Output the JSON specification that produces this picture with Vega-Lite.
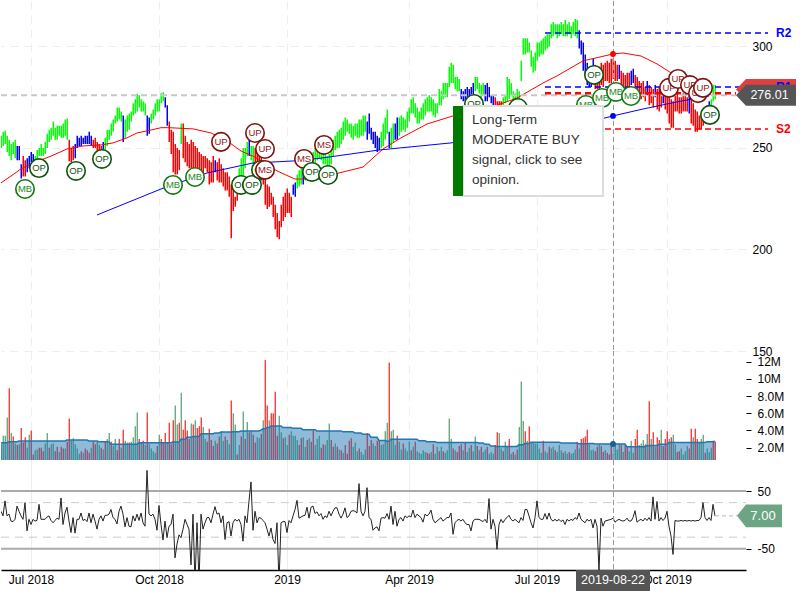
{"$schema":"https://vega.github.io/schema/vega-lite/v6.json","padding":0,"background":"white","bounds":"flush","spacing":0,"config":{"view":{"stroke":null},"font":"Liberation Sans","axis":{"labelFont":"Liberation Sans","labelFontSize":12,"labelColor":"#000","title":null,"labelOverlap":false,"labelBound":false,"labelFlush":false,"gridColor":"#eeeeee","gridDash":[8,6],"gridWidth":1}},"resolve":{"scale":{"color":"independent"}},"datasets":{"bars":[
{"day":0,"low":250,"high":256,"trend":"u","vol":2.4,"dir":"u","avg":2.58,"osc":15},
{"day":1,"low":251,"high":258,"trend":"u","vol":3.4,"dir":"u","avg":2.58,"osc":7},
{"day":2,"low":252,"high":258.5,"trend":"u","vol":3.4,"dir":"u","avg":2.58,"osc":33},
{"day":3,"low":248,"high":256,"trend":"u","vol":5.5,"dir":"u","avg":2.58,"osc":7},
{"day":4,"low":246,"high":254,"trend":"u","vol":8.9,"dir":"d","avg":2.7,"osc":10},
{"day":5,"low":244,"high":252,"trend":"u","vol":3.7,"dir":"u","avg":2.7,"osc":-2},
{"day":6,"low":247,"high":253,"trend":"u","vol":3.3,"dir":"d","avg":2.7,"osc":-3},
{"day":7,"low":245,"high":254,"trend":"u","vol":2.5,"dir":"u","avg":2.7,"osc":1},
{"day":8,"low":244,"high":251,"trend":"n","vol":2.3,"dir":"d","avg":2.7,"osc":24},
{"day":9,"low":244,"high":251,"trend":"n","vol":2.4,"dir":"u","avg":2.78,"osc":15},
{"day":10,"low":235,"high":242,"trend":"n","vol":4.3,"dir":"d","avg":2.78,"osc":7},
{"day":11,"low":236,"high":246,"trend":"d","vol":2.6,"dir":"d","avg":2.78,"osc":1},
{"day":12,"low":236,"high":244,"trend":"d","vol":3.2,"dir":"d","avg":2.78,"osc":30},
{"day":13,"low":238,"high":245,"trend":"n","vol":2,"dir":"u","avg":2.78,"osc":-19},
{"day":14,"low":240,"high":246,"trend":"n","vol":3.5,"dir":"u","avg":2.78,"osc":1},
{"day":15,"low":243,"high":248,"trend":"n","vol":4,"dir":"d","avg":2.78,"osc":-8},
{"day":16,"low":241,"high":247,"trend":"n","vol":1.2,"dir":"d","avg":2.78,"osc":1},
{"day":17,"low":240,"high":246,"trend":"u","vol":1.7,"dir":"u","avg":2.78,"osc":-2},
{"day":18,"low":243,"high":249,"trend":"u","vol":1.8,"dir":"u","avg":2.78,"osc":-1},
{"day":19,"low":246,"high":250,"trend":"u","vol":2,"dir":"d","avg":2.78,"osc":27},
{"day":20,"low":246,"high":252,"trend":"u","vol":2,"dir":"d","avg":2.78,"osc":1},
{"day":21,"low":246,"high":250,"trend":"u","vol":1.6,"dir":"d","avg":2.78,"osc":1},
{"day":22,"low":247,"high":253,"trend":"u","vol":2.5,"dir":"u","avg":2.78,"osc":1},
{"day":23,"low":250,"high":257,"trend":"u","vol":3.7,"dir":"u","avg":2.78,"osc":5},
{"day":24,"low":253,"high":259,"trend":"u","vol":2,"dir":"d","avg":2.78,"osc":7},
{"day":25,"low":254,"high":260,"trend":"u","vol":2.4,"dir":"u","avg":2.78,"osc":-1},
{"day":26,"low":256,"high":263,"trend":"u","vol":2.5,"dir":"u","avg":2.78,"osc":-5},
{"day":27,"low":254,"high":260,"trend":"u","vol":1.6,"dir":"d","avg":2.78,"osc":-1},
{"day":28,"low":254,"high":261,"trend":"u","vol":2.1,"dir":"d","avg":2.78,"osc":3},
{"day":29,"low":256,"high":261,"trend":"u","vol":1.5,"dir":"u","avg":2.78,"osc":1},
{"day":30,"low":255,"high":261,"trend":"u","vol":2.1,"dir":"d","avg":2.78,"osc":38},
{"day":31,"low":255,"high":262,"trend":"u","vol":1.9,"dir":"d","avg":2.78,"osc":-8},
{"day":32,"low":256,"high":264,"trend":"u","vol":1.9,"dir":"u","avg":2.78,"osc":12},
{"day":33,"low":254,"high":264.5,"trend":"u","vol":2.7,"dir":"d","avg":2.89,"osc":22},
{"day":34,"low":243.5,"high":254,"trend":"d","vol":5.4,"dir":"d","avg":2.89,"osc":-2},
{"day":35,"low":243,"high":250,"trend":"d","vol":2.8,"dir":"u","avg":2.89,"osc":-22},
{"day":36,"low":244,"high":251,"trend":"d","vol":3.1,"dir":"u","avg":2.89,"osc":4},
{"day":37,"low":245,"high":252,"trend":"n","vol":2.4,"dir":"u","avg":2.89,"osc":-23},
{"day":38,"low":250,"high":256,"trend":"n","vol":1.9,"dir":"u","avg":2.89,"osc":1},
{"day":39,"low":251,"high":255,"trend":"n","vol":1.3,"dir":"u","avg":2.89,"osc":1},
{"day":40,"low":251,"high":256,"trend":"n","vol":1.6,"dir":"d","avg":2.89,"osc":12},
{"day":41,"low":252,"high":255,"trend":"n","vol":1.4,"dir":"u","avg":2.89,"osc":-1},
{"day":42,"low":252,"high":256,"trend":"n","vol":1.9,"dir":"d","avg":2.89,"osc":1},
{"day":43,"low":252,"high":256,"trend":"n","vol":1.7,"dir":"d","avg":2.89,"osc":-3},
{"day":44,"low":252,"high":258,"trend":"n","vol":1.4,"dir":"d","avg":2.78,"osc":12},
{"day":45,"low":251,"high":256,"trend":"n","vol":2,"dir":"u","avg":2.78,"osc":-5},
{"day":46,"low":250,"high":254,"trend":"d","vol":2.7,"dir":"d","avg":2.78,"osc":10},
{"day":47,"low":250,"high":255,"trend":"d","vol":2.4,"dir":"d","avg":2.78,"osc":-2},
{"day":48,"low":248,"high":253,"trend":"d","vol":2.7,"dir":"u","avg":2.78,"osc":-16},
{"day":49,"low":248,"high":252,"trend":"d","vol":2.3,"dir":"u","avg":2.7,"osc":1},
{"day":50,"low":246,"high":251,"trend":"d","vol":2,"dir":"d","avg":2.7,"osc":7},
{"day":51,"low":249,"high":253,"trend":"n","vol":1.8,"dir":"u","avg":2.7,"osc":-2},
{"day":52,"low":249,"high":255,"trend":"u","vol":2.7,"dir":"d","avg":2.7,"osc":8},
{"day":53,"low":251,"high":259,"trend":"u","vol":3,"dir":"u","avg":2.7,"osc":8},
{"day":54,"low":254,"high":259,"trend":"u","vol":3.7,"dir":"u","avg":2.7,"osc":10},
{"day":55,"low":256,"high":262,"trend":"u","vol":2.7,"dir":"d","avg":2.39,"osc":18},
{"day":56,"low":258,"high":264,"trend":"u","vol":2.2,"dir":"u","avg":2.39,"osc":4},
{"day":57,"low":262,"high":266,"trend":"u","vol":3,"dir":"u","avg":2.39,"osc":1},
{"day":58,"low":263,"high":270,"trend":"u","vol":1.7,"dir":"d","avg":2.39,"osc":-7},
{"day":59,"low":264,"high":270,"trend":"u","vol":3,"dir":"d","avg":2.39,"osc":15},
{"day":60,"low":263,"high":268,"trend":"u","vol":2,"dir":"u","avg":2.39,"osc":24},
{"day":61,"low":253,"high":266,"trend":"n","vol":4.1,"dir":"d","avg":2.39,"osc":10},
{"day":62,"low":255,"high":264,"trend":"u","vol":2.8,"dir":"u","avg":2.39,"osc":-12},
{"day":63,"low":258,"high":266,"trend":"u","vol":2.6,"dir":"u","avg":2.39,"osc":4},
{"day":64,"low":259,"high":267,"trend":"u","vol":2.6,"dir":"d","avg":2.39,"osc":-11},
{"day":65,"low":263,"high":268,"trend":"u","vol":2.7,"dir":"u","avg":2.39,"osc":-12},
{"day":66,"low":266,"high":272,"trend":"u","vol":3.2,"dir":"u","avg":2.39,"osc":7},
{"day":67,"low":267,"high":274,"trend":"u","vol":4.5,"dir":"u","avg":2.39,"osc":-2},
{"day":68,"low":268,"high":276.7,"trend":"u","vol":6.1,"dir":"u","avg":2.39,"osc":10},
{"day":69,"low":270,"high":276,"trend":"u","vol":3,"dir":"d","avg":2.58,"osc":-1},
{"day":70,"low":268,"high":274,"trend":"u","vol":2.6,"dir":"u","avg":2.58,"osc":12},
{"day":71,"low":268,"high":273,"trend":"u","vol":2.8,"dir":"d","avg":2.58,"osc":-5},
{"day":72,"low":266,"high":272,"trend":"u","vol":2.3,"dir":"u","avg":2.58,"osc":-11},
{"day":73,"low":256,"high":266,"trend":"n","vol":6.1,"dir":"d","avg":2.58,"osc":86},
{"day":74,"low":257,"high":265,"trend":"n","vol":2.4,"dir":"u","avg":2.58,"osc":10},
{"day":75,"low":262,"high":267,"trend":"u","vol":1.9,"dir":"u","avg":2.58,"osc":7},
{"day":76,"low":264,"high":269,"trend":"u","vol":1.6,"dir":"u","avg":2.58,"osc":10},
{"day":77,"low":266,"high":272,"trend":"u","vol":1.4,"dir":"u","avg":2.58,"osc":1},
{"day":78,"low":268,"high":274,"trend":"u","vol":2.2,"dir":"d","avg":2.58,"osc":-18},
{"day":79,"low":268,"high":274,"trend":"u","vol":3.5,"dir":"u","avg":2.58,"osc":25},
{"day":80,"low":272,"high":277,"trend":"u","vol":3,"dir":"d","avg":2.58,"osc":-8},
{"day":81,"low":273,"high":277.5,"trend":"u","vol":2.6,"dir":"d","avg":2.58,"osc":-35},
{"day":82,"low":270,"high":275,"trend":"n","vol":3.7,"dir":"d","avg":2.58,"osc":-2},
{"day":83,"low":261,"high":271,"trend":"n","vol":2.6,"dir":"u","avg":2.58,"osc":-31},
{"day":84,"low":253,"high":263,"trend":"d","vol":4.9,"dir":"d","avg":2.58,"osc":-11},
{"day":85,"low":247,"high":259,"trend":"d","vol":2.4,"dir":"d","avg":2.58,"osc":-8},
{"day":86,"low":238,"high":258,"trend":"d","vol":5.2,"dir":"d","avg":2.65,"osc":10},
{"day":87,"low":237,"high":252,"trend":"d","vol":6.9,"dir":"u","avg":2.65,"osc":-66},
{"day":88,"low":237,"high":250,"trend":"d","vol":4.7,"dir":"u","avg":2.65,"osc":-42},
{"day":89,"low":239,"high":249,"trend":"d","vol":4.9,"dir":"d","avg":2.65,"osc":-26},
{"day":90,"low":252,"high":262,"trend":"u","vol":8.4,"dir":"u","avg":2.97,"osc":-31},
{"day":91,"low":245,"high":262,"trend":"d","vol":4.1,"dir":"d","avg":2.97,"osc":-16},
{"day":92,"low":243,"high":256,"trend":"d","vol":5.2,"dir":"d","avg":2.97,"osc":1},
{"day":93,"low":241,"high":253,"trend":"d","vol":4,"dir":"d","avg":3.2,"osc":-8},
{"day":94,"low":240,"high":252,"trend":"d","vol":3,"dir":"d","avg":3.2,"osc":-16},
{"day":95,"low":240,"high":254,"trend":"d","vol":4.8,"dir":"u","avg":3.2,"osc":-78},
{"day":96,"low":238,"high":253,"trend":"d","vol":4.7,"dir":"d","avg":3.3,"osc":10},
{"day":97,"low":238,"high":251,"trend":"d","vol":5.2,"dir":"u","avg":3.3,"osc":-110},
{"day":98,"low":236,"high":250,"trend":"d","vol":4.3,"dir":"d","avg":3.3,"osc":-5},
{"day":99,"low":237,"high":248,"trend":"d","vol":4.5,"dir":"d","avg":3.3,"osc":-110},
{"day":100,"low":236,"high":247,"trend":"d","vol":5.5,"dir":"d","avg":3.63,"osc":10},
{"day":101,"low":236,"high":246,"trend":"d","vol":4.4,"dir":"u","avg":3.63,"osc":-16},
{"day":102,"low":240,"high":246,"trend":"d","vol":3,"dir":"u","avg":3.63,"osc":-5},
{"day":103,"low":238,"high":245,"trend":"d","vol":2.7,"dir":"d","avg":3.63,"osc":4},
{"day":104,"low":232,"high":244,"trend":"d","vol":4.2,"dir":"d","avg":3.63,"osc":4},
{"day":105,"low":233,"high":243,"trend":"d","vol":2.9,"dir":"d","avg":3.63,"osc":-5},
{"day":106,"low":233,"high":246,"trend":"d","vol":2.2,"dir":"d","avg":3.63,"osc":10},
{"day":107,"low":238,"high":244,"trend":"n","vol":2.8,"dir":"u","avg":3.7,"osc":23},
{"day":108,"low":234,"high":243,"trend":"d","vol":2.5,"dir":"d","avg":3.7,"osc":10},
{"day":109,"low":233,"high":245,"trend":"d","vol":3.3,"dir":"d","avg":3.7,"osc":12},
{"day":110,"low":233,"high":242,"trend":"d","vol":3.9,"dir":"u","avg":3.82,"osc":-5},
{"day":111,"low":231,"high":240,"trend":"d","vol":2.8,"dir":"u","avg":3.82,"osc":7},
{"day":112,"low":229,"high":238,"trend":"d","vol":3.3,"dir":"d","avg":3.82,"osc":-34},
{"day":113,"low":229,"high":238,"trend":"d","vol":2.9,"dir":"u","avg":3.82,"osc":-5},
{"day":114,"low":226,"high":236,"trend":"d","vol":2.4,"dir":"u","avg":3.82,"osc":-3},
{"day":115,"low":205.5,"high":232,"trend":"d","vol":7.5,"dir":"d","avg":3.82,"osc":-28},
{"day":116,"low":219,"high":230,"trend":"d","vol":6,"dir":"u","avg":3.85,"osc":-5},
{"day":117,"low":221,"high":226,"trend":"d","vol":4.7,"dir":"u","avg":3.85,"osc":1},
{"day":118,"low":224,"high":230,"trend":"d","vol":1.2,"dir":"d","avg":3.85,"osc":-2},
{"day":119,"low":228,"high":240,"trend":"u","vol":2.3,"dir":"u","avg":3.85,"osc":1},
{"day":120,"low":236,"high":245,"trend":"u","vol":3.3,"dir":"d","avg":3.94,"osc":-8},
{"day":121,"low":236,"high":250,"trend":"u","vol":6.2,"dir":"u","avg":3.94,"osc":-37},
{"day":122,"low":240,"high":250,"trend":"u","vol":3,"dir":"d","avg":3.94,"osc":7},
{"day":123,"low":246,"high":253,"trend":"u","vol":5,"dir":"u","avg":3.94,"osc":-5},
{"day":124,"low":246,"high":254,"trend":"n","vol":3.8,"dir":"d","avg":3.94,"osc":33},
{"day":125,"low":244,"high":251,"trend":"u","vol":4,"dir":"u","avg":3.94,"osc":66},
{"day":126,"low":242,"high":251,"trend":"u","vol":3.5,"dir":"d","avg":3.94,"osc":-18},
{"day":127,"low":240,"high":250,"trend":"d","vol":2.6,"dir":"d","avg":3.94,"osc":15},
{"day":128,"low":238,"high":249,"trend":"d","vol":3.2,"dir":"u","avg":3.94,"osc":-5},
{"day":129,"low":236,"high":247,"trend":"d","vol":3.1,"dir":"u","avg":3.94,"osc":4},
{"day":130,"low":234,"high":246,"trend":"d","vol":3.6,"dir":"d","avg":4.05,"osc":3},
{"day":131,"low":232,"high":244,"trend":"d","vol":5.2,"dir":"u","avg":4.2,"osc":-1},
{"day":132,"low":222,"high":236,"trend":"d","vol":12.2,"dir":"d","avg":4.2,"osc":-5},
{"day":133,"low":220,"high":232,"trend":"d","vol":6.9,"dir":"d","avg":4.35,"osc":-16},
{"day":134,"low":221,"high":231,"trend":"d","vol":5.2,"dir":"u","avg":4.35,"osc":-28},
{"day":135,"low":222,"high":228,"trend":"d","vol":6,"dir":"d","avg":4.52,"osc":-14},
{"day":136,"low":216,"high":226,"trend":"d","vol":6,"dir":"d","avg":4.52,"osc":-34},
{"day":137,"low":210,"high":222,"trend":"d","vol":8.5,"dir":"d","avg":4.52,"osc":-41},
{"day":138,"low":206,"high":218,"trend":"d","vol":3.4,"dir":"d","avg":4.52,"osc":-5},
{"day":139,"low":205,"high":214,"trend":"d","vol":5.7,"dir":"u","avg":4.52,"osc":-110},
{"day":140,"low":211,"high":222,"trend":"d","vol":3.8,"dir":"u","avg":4.52,"osc":-5},
{"day":141,"low":214,"high":226,"trend":"d","vol":3.1,"dir":"d","avg":4.35,"osc":-3},
{"day":142,"low":216,"high":228,"trend":"d","vol":3.2,"dir":"u","avg":4.35,"osc":-3},
{"day":143,"low":218,"high":230,"trend":"d","vol":2.3,"dir":"u","avg":4.35,"osc":-22},
{"day":144,"low":218,"high":228,"trend":"d","vol":3.5,"dir":"d","avg":4.35,"osc":-1},
{"day":145,"low":216,"high":226,"trend":"d","vol":3.9,"dir":"u","avg":4.35,"osc":-5},
{"day":146,"low":227,"high":232,"trend":"n","vol":3.4,"dir":"u","avg":4.25,"osc":7},
{"day":147,"low":226,"high":233,"trend":"n","vol":3.4,"dir":"u","avg":4.25,"osc":18},
{"day":148,"low":230,"high":237,"trend":"u","vol":2.9,"dir":"u","avg":4.25,"osc":34},
{"day":149,"low":231,"high":239,"trend":"u","vol":2.3,"dir":"d","avg":4.25,"osc":3},
{"day":150,"low":232,"high":240,"trend":"u","vol":3.1,"dir":"d","avg":4.25,"osc":5},
{"day":151,"low":232,"high":240,"trend":"n","vol":3.2,"dir":"u","avg":4.1,"osc":7},
{"day":152,"low":234,"high":242,"trend":"u","vol":2.1,"dir":"u","avg":4.1,"osc":8},
{"day":153,"low":234,"high":243,"trend":"u","vol":2.9,"dir":"d","avg":4.1,"osc":22},
{"day":154,"low":236,"high":245,"trend":"u","vol":3.1,"dir":"u","avg":4.1,"osc":3},
{"day":155,"low":238,"high":247,"trend":"u","vol":2.7,"dir":"d","avg":4.1,"osc":22},
{"day":156,"low":240,"high":248,"trend":"u","vol":4,"dir":"d","avg":4.1,"osc":24},
{"day":157,"low":242,"high":250,"trend":"u","vol":2.3,"dir":"u","avg":4.1,"osc":11},
{"day":158,"low":244,"high":252,"trend":"u","vol":3,"dir":"u","avg":3.95,"osc":14},
{"day":159,"low":245,"high":252,"trend":"u","vol":3.4,"dir":"u","avg":3.95,"osc":7},
{"day":160,"low":244,"high":250,"trend":"u","vol":2,"dir":"d","avg":3.95,"osc":11},
{"day":161,"low":242,"high":248,"trend":"u","vol":2.4,"dir":"d","avg":3.95,"osc":1},
{"day":162,"low":242,"high":248,"trend":"u","vol":2.3,"dir":"u","avg":3.95,"osc":7},
{"day":163,"low":238,"high":246,"trend":"u","vol":2.9,"dir":"u","avg":3.95,"osc":4},
{"day":164,"low":240,"high":247,"trend":"u","vol":4.8,"dir":"u","avg":3.95,"osc":15},
{"day":165,"low":242,"high":250,"trend":"u","vol":2.9,"dir":"d","avg":3.95,"osc":7},
{"day":166,"low":246,"high":254,"trend":"u","vol":2.1,"dir":"d","avg":3.95,"osc":15},
{"day":167,"low":249,"high":256,"trend":"u","vol":2.5,"dir":"u","avg":3.95,"osc":21},
{"day":168,"low":250,"high":258,"trend":"u","vol":2.1,"dir":"d","avg":3.95,"osc":21},
{"day":169,"low":250,"high":259,"trend":"u","vol":1.8,"dir":"u","avg":3.95,"osc":10},
{"day":170,"low":252,"high":260,"trend":"u","vol":1.7,"dir":"d","avg":3.95,"osc":3},
{"day":171,"low":254,"high":263,"trend":"u","vol":1.4,"dir":"u","avg":3.85,"osc":10},
{"day":172,"low":256,"high":265,"trend":"u","vol":2.3,"dir":"d","avg":3.85,"osc":21},
{"day":173,"low":258,"high":264,"trend":"u","vol":1.3,"dir":"d","avg":3.85,"osc":4},
{"day":174,"low":257,"high":262,"trend":"u","vol":2.8,"dir":"d","avg":3.85,"osc":7},
{"day":175,"low":255,"high":262,"trend":"u","vol":3.1,"dir":"d","avg":3.85,"osc":15},
{"day":176,"low":254,"high":261,"trend":"u","vol":2.1,"dir":"u","avg":3.85,"osc":16},
{"day":177,"low":256,"high":262,"trend":"u","vol":2.6,"dir":"u","avg":3.7,"osc":15},
{"day":178,"low":255,"high":262,"trend":"u","vol":1.6,"dir":"u","avg":3.7,"osc":12},
{"day":179,"low":255,"high":264,"trend":"u","vol":1.9,"dir":"d","avg":3.7,"osc":63},
{"day":180,"low":256,"high":264,"trend":"u","vol":1.5,"dir":"u","avg":3.7,"osc":15},
{"day":181,"low":256,"high":266,"trend":"u","vol":1.2,"dir":"u","avg":3.55,"osc":7},
{"day":182,"low":258,"high":266,"trend":"u","vol":1.8,"dir":"u","avg":3.55,"osc":15},
{"day":183,"low":254,"high":263,"trend":"n","vol":3.7,"dir":"d","avg":3.55,"osc":56},
{"day":184,"low":257,"high":267,"trend":"n","vol":2.2,"dir":"d","avg":3.55,"osc":4},
{"day":185,"low":254,"high":260,"trend":"n","vol":2.9,"dir":"d","avg":3.2,"osc":1},
{"day":186,"low":252,"high":258,"trend":"n","vol":2.5,"dir":"u","avg":3.2,"osc":-18},
{"day":187,"low":250,"high":258,"trend":"n","vol":2.2,"dir":"u","avg":3.2,"osc":-14},
{"day":188,"low":248,"high":256,"trend":"n","vol":2.8,"dir":"d","avg":3.2,"osc":-12},
{"day":189,"low":249,"high":255,"trend":"n","vol":2.9,"dir":"d","avg":2.85,"osc":-19},
{"day":190,"low":250,"high":258,"trend":"u","vol":2.3,"dir":"u","avg":2.85,"osc":3},
{"day":191,"low":251,"high":262,"trend":"u","vol":2.4,"dir":"u","avg":2.85,"osc":4},
{"day":192,"low":254,"high":265,"trend":"u","vol":3.9,"dir":"u","avg":2.85,"osc":3},
{"day":193,"low":257,"high":269,"trend":"u","vol":4.9,"dir":"u","avg":2.75,"osc":11},
{"day":194,"low":250,"high":258,"trend":"n","vol":11.9,"dir":"d","avg":2.75,"osc":1},
{"day":195,"low":250,"high":260,"trend":"u","vol":3.9,"dir":"u","avg":2.97,"osc":24},
{"day":196,"low":253,"high":262,"trend":"u","vol":4.1,"dir":"u","avg":2.97,"osc":-8},
{"day":197,"low":254,"high":262,"trend":"n","vol":2.3,"dir":"u","avg":2.97,"osc":15},
{"day":198,"low":254,"high":265,"trend":"n","vol":3.4,"dir":"d","avg":2.97,"osc":-11},
{"day":199,"low":256,"high":265,"trend":"u","vol":2.7,"dir":"u","avg":2.97,"osc":1},
{"day":200,"low":258,"high":266,"trend":"u","vol":1.8,"dir":"u","avg":2.97,"osc":4},
{"day":201,"low":259,"high":265,"trend":"u","vol":2.5,"dir":"d","avg":2.97,"osc":-2},
{"day":202,"low":258,"high":264,"trend":"u","vol":1.9,"dir":"u","avg":2.97,"osc":7},
{"day":203,"low":260,"high":268,"trend":"u","vol":1.6,"dir":"u","avg":2.97,"osc":4},
{"day":204,"low":263,"high":270,"trend":"u","vol":2.7,"dir":"u","avg":2.97,"osc":7},
{"day":205,"low":267,"high":274,"trend":"u","vol":1.7,"dir":"d","avg":2.97,"osc":5},
{"day":206,"low":267,"high":275,"trend":"u","vol":2.1,"dir":"u","avg":2.97,"osc":17},
{"day":207,"low":265,"high":272,"trend":"u","vol":2.7,"dir":"d","avg":2.97,"osc":4},
{"day":208,"low":262,"high":270,"trend":"u","vol":1.6,"dir":"u","avg":2.97,"osc":10},
{"day":209,"low":262,"high":268,"trend":"u","vol":1.4,"dir":"u","avg":2.8,"osc":7},
{"day":210,"low":264,"high":270,"trend":"u","vol":1.3,"dir":"u","avg":2.8,"osc":4},
{"day":211,"low":264,"high":272,"trend":"u","vol":1.7,"dir":"u","avg":2.8,"osc":-4},
{"day":212,"low":266,"high":274,"trend":"u","vol":1.5,"dir":"u","avg":2.8,"osc":10},
{"day":213,"low":268,"high":275,"trend":"u","vol":1.4,"dir":"d","avg":2.7,"osc":7},
{"day":214,"low":268,"high":276,"trend":"u","vol":1.3,"dir":"d","avg":2.7,"osc":10},
{"day":215,"low":268,"high":275,"trend":"u","vol":1.5,"dir":"u","avg":2.7,"osc":17},
{"day":216,"low":266,"high":274,"trend":"u","vol":2.4,"dir":"d","avg":2.7,"osc":1},
{"day":217,"low":265,"high":272,"trend":"u","vol":1.3,"dir":"u","avg":2.7,"osc":-5},
{"day":218,"low":267,"high":272,"trend":"u","vol":2.1,"dir":"u","avg":2.6,"osc":-2},
{"day":219,"low":271,"high":279,"trend":"u","vol":1.6,"dir":"d","avg":2.6,"osc":1},
{"day":220,"low":271,"high":278,"trend":"u","vol":2.1,"dir":"u","avg":2.6,"osc":4},
{"day":221,"low":274,"high":282,"trend":"u","vol":1.6,"dir":"d","avg":2.6,"osc":-2},
{"day":222,"low":275,"high":282,"trend":"u","vol":1.4,"dir":"u","avg":2.6,"osc":1},
{"day":223,"low":275,"high":282,"trend":"u","vol":1.7,"dir":"u","avg":2.6,"osc":4},
{"day":224,"low":280,"high":290,"trend":"u","vol":5.4,"dir":"u","avg":2.6,"osc":4},
{"day":225,"low":282,"high":292,"trend":"u","vol":3,"dir":"u","avg":2.6,"osc":12},
{"day":226,"low":282,"high":291,"trend":"u","vol":1.9,"dir":"d","avg":2.6,"osc":-25},
{"day":227,"low":279,"high":285,"trend":"u","vol":1.7,"dir":"u","avg":2.6,"osc":-5},
{"day":228,"low":278,"high":285,"trend":"u","vol":1.5,"dir":"d","avg":2.6,"osc":-1},
{"day":229,"low":278,"high":284,"trend":"u","vol":2.2,"dir":"d","avg":2.6,"osc":1},
{"day":230,"low":274,"high":279,"trend":"n","vol":2.4,"dir":"d","avg":2.6,"osc":-2},
{"day":231,"low":273,"high":278,"trend":"n","vol":1.7,"dir":"u","avg":2.6,"osc":1},
{"day":232,"low":273,"high":279,"trend":"n","vol":2.6,"dir":"d","avg":2.6,"osc":-5},
{"day":233,"low":274,"high":280,"trend":"n","vol":1.5,"dir":"u","avg":2.6,"osc":-8},
{"day":234,"low":275,"high":279,"trend":"n","vol":2,"dir":"u","avg":2.6,"osc":-8},
{"day":235,"low":275,"high":280,"trend":"n","vol":2.3,"dir":"d","avg":2.6,"osc":-19},
{"day":236,"low":276,"high":282,"trend":"n","vol":1.6,"dir":"u","avg":2.6,"osc":-2},
{"day":237,"low":278,"high":285,"trend":"u","vol":3.3,"dir":"u","avg":2.6,"osc":1},
{"day":238,"low":279,"high":285,"trend":"u","vol":2.2,"dir":"d","avg":2.6,"osc":1},
{"day":239,"low":277,"high":282,"trend":"u","vol":1.7,"dir":"u","avg":2.55,"osc":1},
{"day":240,"low":275,"high":281,"trend":"u","vol":2.1,"dir":"d","avg":2.55,"osc":-1},
{"day":241,"low":276,"high":282,"trend":"u","vol":1.5,"dir":"u","avg":2.55,"osc":-3},
{"day":242,"low":273,"high":281,"trend":"n","vol":1.8,"dir":"u","avg":2.4,"osc":1},
{"day":243,"low":273,"high":282,"trend":"n","vol":2.1,"dir":"d","avg":2.4,"osc":-5},
{"day":244,"low":275,"high":280,"trend":"n","vol":1.3,"dir":"u","avg":2.4,"osc":37},
{"day":245,"low":272,"high":276,"trend":"n","vol":1.5,"dir":"u","avg":2.2,"osc":-16},
{"day":246,"low":271,"high":276,"trend":"n","vol":1.3,"dir":"u","avg":2.2,"osc":1},
{"day":247,"low":270,"high":275,"trend":"d","vol":2.3,"dir":"d","avg":2.2,"osc":-11},
{"day":248,"low":270,"high":273,"trend":"d","vol":3.8,"dir":"d","avg":2.15,"osc":-51},
{"day":249,"low":270,"high":273,"trend":"d","vol":3.7,"dir":"u","avg":2.15,"osc":-8},
{"day":250,"low":270,"high":273,"trend":"d","vol":1.9,"dir":"u","avg":2.15,"osc":1},
{"day":251,"low":270,"high":275,"trend":"u","vol":1.6,"dir":"d","avg":2.15,"osc":-5},
{"day":252,"low":272,"high":276,"trend":"u","vol":2.7,"dir":"u","avg":2.15,"osc":1},
{"day":253,"low":273,"high":285,"trend":"u","vol":2.2,"dir":"u","avg":2.15,"osc":4},
{"day":254,"low":274,"high":284,"trend":"u","vol":3,"dir":"d","avg":2.15,"osc":8},
{"day":255,"low":276,"high":282,"trend":"u","vol":1.3,"dir":"u","avg":2.15,"osc":1},
{"day":256,"low":273,"high":278,"trend":"u","vol":1.5,"dir":"d","avg":2.15,"osc":-2},
{"day":257,"low":272,"high":277,"trend":"u","vol":1.2,"dir":"u","avg":2.15,"osc":1},
{"day":258,"low":274,"high":279,"trend":"u","vol":1.8,"dir":"d","avg":2.15,"osc":-2},
{"day":259,"low":274,"high":278,"trend":"u","vol":4.4,"dir":"u","avg":2.35,"osc":-5},
{"day":260,"low":283,"high":293,"trend":"u","vol":9.7,"dir":"u","avg":2.35,"osc":4},
{"day":261,"low":296,"high":304,"trend":"u","vol":5.1,"dir":"u","avg":2.35,"osc":-1},
{"day":262,"low":296,"high":304,"trend":"u","vol":3.9,"dir":"d","avg":2.5,"osc":18},
{"day":263,"low":297,"high":304,"trend":"u","vol":2.8,"dir":"u","avg":2.5,"osc":18},
{"day":264,"low":297,"high":302,"trend":"u","vol":4.5,"dir":"d","avg":2.5,"osc":7},
{"day":265,"low":290,"high":298,"trend":"u","vol":2.6,"dir":"u","avg":2.62,"osc":-5},
{"day":266,"low":287,"high":295,"trend":"u","vol":2.6,"dir":"u","avg":2.62,"osc":-14},
{"day":267,"low":288,"high":297,"trend":"u","vol":2.5,"dir":"u","avg":2.62,"osc":4},
{"day":268,"low":293,"high":302,"trend":"u","vol":2.5,"dir":"u","avg":2.62,"osc":33},
{"day":269,"low":295,"high":302,"trend":"u","vol":1.9,"dir":"u","avg":2.62,"osc":4},
{"day":270,"low":296,"high":303,"trend":"u","vol":1.4,"dir":"u","avg":2.62,"osc":1},
{"day":271,"low":296,"high":304,"trend":"u","vol":2.8,"dir":"d","avg":2.62,"osc":1},
{"day":272,"low":298,"high":305,"trend":"u","vol":1.6,"dir":"u","avg":2.62,"osc":11},
{"day":273,"low":299,"high":306,"trend":"u","vol":1.4,"dir":"u","avg":2.62,"osc":1},
{"day":274,"low":300,"high":306,"trend":"u","vol":2.1,"dir":"d","avg":2.62,"osc":12},
{"day":275,"low":304,"high":311,"trend":"u","vol":1.9,"dir":"u","avg":2.62,"osc":1},
{"day":276,"low":305,"high":312,"trend":"u","vol":2.1,"dir":"u","avg":2.62,"osc":-2},
{"day":277,"low":306,"high":311,"trend":"u","vol":1.7,"dir":"d","avg":2.62,"osc":1},
{"day":278,"low":304,"high":311,"trend":"u","vol":1.5,"dir":"u","avg":2.62,"osc":-2},
{"day":279,"low":305,"high":311,"trend":"u","vol":2.3,"dir":"u","avg":2.62,"osc":1},
{"day":280,"low":306,"high":312,"trend":"u","vol":1.7,"dir":"u","avg":2.55,"osc":-3},
{"day":281,"low":305,"high":311,"trend":"u","vol":1.4,"dir":"d","avg":2.55,"osc":0},
{"day":282,"low":305,"high":313,"trend":"u","vol":1.6,"dir":"u","avg":2.55,"osc":-8},
{"day":283,"low":305,"high":311,"trend":"u","vol":1.3,"dir":"u","avg":2.55,"osc":1},
{"day":284,"low":306,"high":312,"trend":"u","vol":1.5,"dir":"d","avg":2.55,"osc":-2},
{"day":285,"low":304,"high":310,"trend":"u","vol":1.3,"dir":"u","avg":2.55,"osc":1},
{"day":286,"low":306,"high":312,"trend":"u","vol":1.4,"dir":"u","avg":2.55,"osc":-1},
{"day":287,"low":305,"high":313.5,"trend":"u","vol":1.8,"dir":"u","avg":2.55,"osc":4},
{"day":288,"low":304,"high":313,"trend":"u","vol":2.7,"dir":"d","avg":2.55,"osc":1},
{"day":289,"low":299,"high":308,"trend":"n","vol":1.9,"dir":"u","avg":2.45,"osc":12},
{"day":290,"low":296,"high":303,"trend":"n","vol":3,"dir":"d","avg":2.45,"osc":1},
{"day":291,"low":288,"high":302,"trend":"n","vol":3.1,"dir":"d","avg":2.45,"osc":-2},
{"day":292,"low":286,"high":296,"trend":"n","vol":3.3,"dir":"d","avg":2.45,"osc":-5},
{"day":293,"low":281,"high":292,"trend":"n","vol":4.1,"dir":"d","avg":2.45,"osc":1},
{"day":294,"low":280,"high":288,"trend":"n","vol":2.4,"dir":"u","avg":2.5,"osc":-2},
{"day":295,"low":280,"high":290,"trend":"n","vol":1.7,"dir":"u","avg":2.5,"osc":1},
{"day":296,"low":283,"high":294,"trend":"n","vol":1.8,"dir":"u","avg":2.5,"osc":-14},
{"day":297,"low":279,"high":291,"trend":"d","vol":1.6,"dir":"d","avg":2.42,"osc":1},
{"day":298,"low":279,"high":290,"trend":"d","vol":2.1,"dir":"d","avg":2.42,"osc":-11},
{"day":299,"low":277,"high":290,"trend":"d","vol":2.4,"dir":"u","avg":2.42,"osc":-88},
{"day":300,"low":281,"high":292,"trend":"d","vol":2.2,"dir":"d","avg":2.42,"osc":3},
{"day":301,"low":280,"high":291,"trend":"d","vol":1.5,"dir":"d","avg":2.42,"osc":-11},
{"day":302,"low":283,"high":292,"trend":"d","vol":1.7,"dir":"u","avg":2.42,"osc":-2},
{"day":303,"low":283,"high":293,"trend":"d","vol":1.4,"dir":"d","avg":2.42,"osc":-1},
{"day":304,"low":282,"high":292,"trend":"d","vol":1.2,"dir":"d","avg":2.42,"osc":0},
{"day":305,"low":282,"high":294,"trend":"d","vol":2.5,"dir":"d","avg":2.42,"osc":1},
{"day":306,"low":284,"high":294,"trend":"d","vol":1.3,"dir":"u","avg":2.42,"osc":3},
{"day":307,"low":283,"high":293,"trend":"d","vol":2.3,"dir":"u","avg":2.42,"osc":-4},
{"day":308,"low":283,"high":291,"trend":"d","vol":1.8,"dir":"u","avg":2.42,"osc":-1},
{"day":309,"low":284,"high":291,"trend":"n","vol":2.5,"dir":"u","avg":2.42,"osc":1},
{"day":310,"low":280,"high":288,"trend":"d","vol":2.3,"dir":"d","avg":2.42,"osc":-1},
{"day":311,"low":278,"high":287,"trend":"d","vol":1.5,"dir":"u","avg":2.42,"osc":-2},
{"day":312,"low":278,"high":286,"trend":"d","vol":2.4,"dir":"d","avg":2.42,"osc":-1},
{"day":313,"low":279,"high":287,"trend":"d","vol":2.1,"dir":"d","avg":2.1,"osc":3},
{"day":314,"low":277,"high":287,"trend":"d","vol":1.6,"dir":"u","avg":2.1,"osc":-2},
{"day":315,"low":281,"high":288,"trend":"n","vol":2.8,"dir":"u","avg":2.1,"osc":-2},
{"day":316,"low":282,"high":289,"trend":"n","vol":1.4,"dir":"u","avg":2.1,"osc":4},
{"day":317,"low":278,"high":286,"trend":"d","vol":3,"dir":"d","avg":2.1,"osc":16},
{"day":318,"low":272,"high":285,"trend":"d","vol":4.1,"dir":"d","avg":2.1,"osc":-4},
{"day":319,"low":274,"high":283,"trend":"d","vol":2.3,"dir":"u","avg":2.1,"osc":-1},
{"day":320,"low":274,"high":282,"trend":"d","vol":2.5,"dir":"u","avg":2.1,"osc":1},
{"day":321,"low":275,"high":283,"trend":"d","vol":2.9,"dir":"u","avg":2.1,"osc":-2},
{"day":322,"low":273,"high":280,"trend":"d","vol":2.4,"dir":"d","avg":2.1,"osc":3},
{"day":323,"low":276,"high":283,"trend":"n","vol":3.6,"dir":"u","avg":2.25,"osc":-1},
{"day":324,"low":271,"high":281,"trend":"d","vol":7.4,"dir":"d","avg":2.25,"osc":4},
{"day":325,"low":272,"high":280,"trend":"d","vol":3,"dir":"u","avg":2.25,"osc":-2},
{"day":326,"low":270,"high":279,"trend":"d","vol":3.8,"dir":"d","avg":2.25,"osc":40},
{"day":327,"low":275,"high":281,"trend":"n","vol":2.1,"dir":"u","avg":2.25,"osc":1},
{"day":328,"low":269,"high":279,"trend":"d","vol":3.2,"dir":"d","avg":2.25,"osc":32},
{"day":329,"low":268,"high":280,"trend":"d","vol":2.9,"dir":"d","avg":2.4,"osc":-2},
{"day":330,"low":270,"high":280,"trend":"d","vol":4.1,"dir":"u","avg":2.4,"osc":4},
{"day":331,"low":272,"high":281,"trend":"n","vol":2.2,"dir":"d","avg":2.4,"osc":-1},
{"day":332,"low":269,"high":279,"trend":"d","vol":3,"dir":"d","avg":2.4,"osc":3},
{"day":333,"low":267,"high":278,"trend":"d","vol":3.9,"dir":"d","avg":2.4,"osc":15},
{"day":334,"low":262,"high":275,"trend":"d","vol":3,"dir":"u","avg":2.6,"osc":-11},
{"day":335,"low":260,"high":274,"trend":"d","vol":3.2,"dir":"d","avg":2.6,"osc":-28},
{"day":336,"low":260,"high":273,"trend":"d","vol":3.5,"dir":"u","avg":2.6,"osc":-60},
{"day":337,"low":268,"high":276,"trend":"d","vol":2.4,"dir":"u","avg":2.6,"osc":-1},
{"day":338,"low":268,"high":277,"trend":"d","vol":1.5,"dir":"d","avg":2.6,"osc":-2},
{"day":339,"low":267,"high":275,"trend":"d","vol":1.6,"dir":"d","avg":2.6,"osc":-2},
{"day":340,"low":267,"high":275,"trend":"d","vol":1.9,"dir":"u","avg":2.6,"osc":-1},
{"day":341,"low":268,"high":277,"trend":"d","vol":1.2,"dir":"u","avg":2.6,"osc":-2},
{"day":342,"low":268,"high":276,"trend":"d","vol":1.6,"dir":"u","avg":2.6,"osc":-1},
{"day":343,"low":268,"high":275,"trend":"d","vol":2.2,"dir":"u","avg":2.6,"osc":-2},
{"day":344,"low":267,"high":276,"trend":"n","vol":1.9,"dir":"d","avg":2.6,"osc":-1},
{"day":345,"low":262,"high":274,"trend":"d","vol":4.2,"dir":"d","avg":2.6,"osc":-2},
{"day":346,"low":261,"high":272,"trend":"d","vol":3.2,"dir":"u","avg":2.6,"osc":-1},
{"day":347,"low":258,"high":269,"trend":"d","vol":4.2,"dir":"d","avg":2.6,"osc":-2},
{"day":348,"low":258,"high":268,"trend":"d","vol":3,"dir":"d","avg":2.6,"osc":-1},
{"day":349,"low":259,"high":266,"trend":"d","vol":2.6,"dir":"u","avg":2.6,"osc":-1},
{"day":350,"low":259,"high":266,"trend":"d","vol":3,"dir":"u","avg":2.6,"osc":4},
{"day":351,"low":261,"high":268,"trend":"d","vol":3.5,"dir":"u","avg":2.6,"osc":30},
{"day":352,"low":262,"high":270,"trend":"d","vol":1.4,"dir":"d","avg":2.6,"osc":4},
{"day":353,"low":264,"high":271,"trend":"d","vol":1.9,"dir":"u","avg":2.7,"osc":-1},
{"day":354,"low":266,"high":273,"trend":"n","vol":1.5,"dir":"u","avg":2.7,"osc":4},
{"day":355,"low":269,"high":274,"trend":"u","vol":2,"dir":"u","avg":2.7,"osc":-1},
{"day":356,"low":273,"high":281,"trend":"u","vol":2.8,"dir":"d","avg":2.7,"osc":27},
{"day":357,"low":274,"high":281,"trend":"u","vol":2.7,"dir":"d","avg":2.75,"osc":7}
],
"ma50":[{"day":0,"ma":232.8},{"day":5,"ma":236.2},{"day":10,"ma":239.7},{"day":16,"ma":242.6},{"day":25,"ma":246},{"day":33,"ma":249.5},{"day":41,"ma":251},{"day":50,"ma":251.5},{"day":56,"ma":252.5},{"day":63,"ma":255},{"day":68,"ma":257.4},{"day":73,"ma":258.4},{"day":80,"ma":260},{"day":84,"ma":260},{"day":96,"ma":259.4},{"day":105,"ma":257.4},{"day":113,"ma":253.5},{"day":120,"ma":248.5},{"day":126,"ma":246},{"day":132,"ma":242.6},{"day":138,"ma":238.7},{"day":147,"ma":234.7},{"day":160,"ma":234.7},{"day":169,"ma":237.7},{"day":181,"ma":240.6},{"day":191,"ma":249.5},{"day":200,"ma":255},{"day":213,"ma":261.8},{"day":226,"ma":265.8},{"day":235,"ma":267.2},{"day":247,"ma":270.7},{"day":258,"ma":274.6},{"day":271,"ma":282},{"day":278,"ma":285.5},{"day":291,"ma":292.9},{"day":306,"ma":296.3},{"day":311,"ma":296.8},{"day":320,"ma":295.3},{"day":328,"ma":291.4},{"day":335,"ma":287},{"day":340,"ma":283},{"day":345,"ma":278},{"day":354,"ma":276.6}],
"ma200":[{"day":48,"ma":217},{"day":80,"ma":229.8},{"day":103,"ma":237.7},{"day":126,"ma":242.6},{"day":146,"ma":243.6},{"day":160,"ma":245},{"day":189,"ma":249},{"day":225,"ma":252.5},{"day":300,"ma":264.3},{"day":306,"ma":265.8},{"day":321,"ma":269.2},{"day":338,"ma":272.7},{"day":354,"ma":275.6}],
"signals":[{"day":12,"price":229.8,"kind":"MB","tier":1},{"day":19,"price":240.1,"kind":"OP","tier":1},{"day":37.5,"price":238.7,"kind":"OP","tier":1},{"day":50.5,"price":244.6,"kind":"OP","tier":1},{"day":86,"price":231.8,"kind":"MB","tier":1},{"day":97,"price":235.7,"kind":"MB","tier":1},{"day":110,"price":253,"kind":"UP","tier":1},{"day":120,"price":231.8,"kind":"OP","tier":1},{"day":127,"price":257.4,"kind":"UP","tier":1},{"day":125.5,"price":231.8,"kind":"OP","tier":2},{"day":132,"price":249.5,"kind":"UP","tier":2},{"day":130,"price":239.2,"kind":"OP","tier":3},{"day":132,"price":239.2,"kind":"MS","tier":4},{"day":151.5,"price":244.6,"kind":"MS","tier":1},{"day":155.5,"price":238.2,"kind":"OP","tier":2},{"day":161.5,"price":251.5,"kind":"MS","tier":1},{"day":163.5,"price":236.7,"kind":"OP","tier":3},{"day":236.5,"price":271.7,"kind":"OP","tier":1},{"day":258.5,"price":269.7,"kind":"OP","tier":1},{"day":292.5,"price":271.2,"kind":"MB","tier":1},{"day":296.5,"price":286,"kind":"OP","tier":1},{"day":300.5,"price":274.6,"kind":"MB","tier":2},{"day":307.5,"price":277.6,"kind":"MB","tier":3},{"day":315,"price":275.6,"kind":"MB","tier":4},{"day":334,"price":279.6,"kind":"UP","tier":1},{"day":338.5,"price":284,"kind":"UP","tier":2},{"day":344.5,"price":281,"kind":"UP","tier":3},{"day":348.5,"price":277,"kind":"UP","tier":4},{"day":351,"price":279.6,"kind":"UP","tier":5},{"day":354.5,"price":266.3,"kind":"OP","tier":5}],
"note":[{"day":235.5,"price":263.8,"line":"Long-Term"},{"day":235.5,"price":254,"line":"MODERATE BUY"},{"day":235.5,"price":244.1,"line":"signal, click to see"},{"day":235.5,"price":234.2,"line":"opinion."}]
},
"vconcat":[
{"width":745,"height":350,"encoding":{"x":{"field":"day","type":"quantitative","scale":{"domain":[0,372.5],"nice":false,"zero":false},"axis":{"values":[15,79,143,204,268,333],"labels":false,"ticks":false,"domain":false,"grid":true}}},
"layer":[
{"data":{"name":"bars"},"mark":{"type":"rule","strokeWidth":1.5,"xOffset":0.25,"clip":true},"encoding":{"y":{"field":"low","type":"quantitative","scale":{"domain":[150,322.4],"nice":false,"zero":false},"axis":{"orient":"right","values":[150,200,250,300],"tickCount":10,"tickSize":0,"domain":false,"grid":true,"labelPadding":6,"labelOverlap":false}},"y2":{"field":"high"},"color":{"field":"trend","type":"nominal","legend":null,"scale":{"domain":["u","n","d"],"range":["#00ff00","#0000ff","#ff0000"]}}}},
{"data":{"name":"ma50"},"mark":{"type":"line","stroke":"#ff0000","strokeWidth":1,"clip":true},"encoding":{"y":{"field":"ma","type":"quantitative"}}},
{"data":{"name":"ma200"},"mark":{"type":"line","stroke":"#0000ff","strokeWidth":1,"clip":true},"encoding":{"y":{"field":"ma","type":"quantitative"}}},
{"data":{"values":[{"day":0,"to":367.5,"price":276.01}]},"mark":{"type":"rule","stroke":"#c8c8c8","strokeWidth":2,"strokeDash":[6,4]},"encoding":{"x2":{"field":"to"},"y":{"field":"price","type":"quantitative"}}},
{"data":{"values":[{"day":272,"to":383.5,"price":306.6},{"day":272,"to":383.5,"price":280}]},"mark":{"type":"rule","stroke":"#0000ff","strokeWidth":1.5,"strokeDash":[6,4]},"encoding":{"x2":{"field":"to"},"y":{"field":"price","type":"quantitative"}}},
{"data":{"values":[{"day":272,"to":383.5,"price":259.4}]},"mark":{"type":"rule","stroke":"#ff0000","strokeWidth":1.5,"strokeDash":[6,4]},"encoding":{"x2":{"field":"to"},"y":{"field":"price","type":"quantitative"}}},
{"data":{"values":[{"day":272,"to":367.5,"price":277}]},"mark":{"type":"rule","stroke":"#ff0000","strokeWidth":2.5,"strokeDash":[6,4]},"encoding":{"x2":{"field":"to"},"y":{"field":"price","type":"quantitative"}}},
{"data":{"values":[{"day":306}]},"mark":{"type":"rule","stroke":"#999999","strokeWidth":1,"strokeDash":[5,3],"xOffset":0.5},"encoding":{}},
{"data":{"values":[{"day":306,"price":296.3}]},"mark":{"type":"circle","size":34,"opacity":1,"fill":"#ff0000"},"encoding":{"y":{"field":"price","type":"quantitative"}}},
{"data":{"values":[{"day":306,"price":265.8}]},"mark":{"type":"circle","size":34,"opacity":1,"fill":"#0000ff"},"encoding":{"y":{"field":"price","type":"quantitative"}}},
{"data":{"name":"signals"},"transform":[{"filter":"datum.tier==1"}],"encoding":{"y":{"field":"price","type":"quantitative"}},"layer":[{"mark":{"type":"circle","size":340,"fill":"white","opacity":1,"strokeWidth":1.6},"encoding":{"stroke":{"field":"kind","type":"nominal","legend":null,"scale":{"domain":["OP","MB","UP","MS"],"range":["#0d550d","#0f7a0f","#7f1010","#7f1010"]}}}},{"mark":{"type":"text","fontSize":9.5,"align":"center","baseline":"middle"},"encoding":{"text":{"field":"kind"},"fill":{"field":"kind","type":"nominal","legend":null,"scale":{"domain":["OP","MB","UP","MS"],"range":["#0d550d","#1e8a1e","#8b2020","#8b2020"]}}}}]},
{"data":{"name":"signals"},"transform":[{"filter":"datum.tier==2"}],"encoding":{"y":{"field":"price","type":"quantitative"}},"layer":[{"mark":{"type":"circle","size":340,"fill":"white","opacity":1,"strokeWidth":1.6},"encoding":{"stroke":{"field":"kind","type":"nominal","legend":null}}},{"mark":{"type":"text","fontSize":9.5,"align":"center","baseline":"middle"},"encoding":{"text":{"field":"kind"},"fill":{"field":"kind","type":"nominal","legend":null}}}]},
{"data":{"name":"signals"},"transform":[{"filter":"datum.tier==3"}],"encoding":{"y":{"field":"price","type":"quantitative"}},"layer":[{"mark":{"type":"circle","size":340,"fill":"white","opacity":1,"strokeWidth":1.6},"encoding":{"stroke":{"field":"kind","type":"nominal","legend":null}}},{"mark":{"type":"text","fontSize":9.5,"align":"center","baseline":"middle"},"encoding":{"text":{"field":"kind"},"fill":{"field":"kind","type":"nominal","legend":null}}}]},
{"data":{"name":"signals"},"transform":[{"filter":"datum.tier==4"}],"encoding":{"y":{"field":"price","type":"quantitative"}},"layer":[{"mark":{"type":"circle","size":340,"fill":"white","opacity":1,"strokeWidth":1.6},"encoding":{"stroke":{"field":"kind","type":"nominal","legend":null}}},{"mark":{"type":"text","fontSize":9.5,"align":"center","baseline":"middle"},"encoding":{"text":{"field":"kind"},"fill":{"field":"kind","type":"nominal","legend":null}}}]},
{"data":{"name":"signals"},"transform":[{"filter":"datum.tier==5"}],"encoding":{"y":{"field":"price","type":"quantitative"}},"layer":[{"mark":{"type":"circle","size":340,"fill":"white","opacity":1,"strokeWidth":1.6},"encoding":{"stroke":{"field":"kind","type":"nominal","legend":null}}},{"mark":{"type":"text","fontSize":9.5,"align":"center","baseline":"middle"},"encoding":{"text":{"field":"kind"},"fill":{"field":"kind","type":"nominal","legend":null}}}]},
{"data":{"values":[{"day":357,"price":278.8}]},"mark":{"type":"point","shape":"M-1,0L-0.667,-0.35L1,-0.35L1,0.35L-0.667,0.35Z","size":3600,"filled":true,"color":"#e04040","opacity":1,"strokeWidth":0,"xOffset":51},"encoding":{"y":{"field":"price","type":"quantitative"}}},
{"data":{"values":[{"day":357,"price":306.6,"name":"R2"},{"day":357,"price":280,"name":"R1"}]},"mark":{"type":"text","fontWeight":"bold","fontSize":12,"align":"left","baseline":"middle","xOffset":61,"color":"#0000ff"},"encoding":{"y":{"field":"price","type":"quantitative"},"text":{"field":"name"}}},
{"data":{"values":[{"day":357,"price":259.4,"name":"S2"}]},"mark":{"type":"text","fontWeight":"bold","fontSize":12,"align":"left","baseline":"middle","xOffset":61,"color":"#ff0000"},"encoding":{"y":{"field":"price","type":"quantitative"},"text":{"field":"name"}}},
{"data":{"values":[{"day":357,"price":276.01}]},"mark":{"type":"point","shape":"M-1,0L-0.667,-0.35L1,-0.35L1,0.35L-0.667,0.35Z","size":3600,"filled":true,"color":"#555555","opacity":1,"strokeWidth":0,"xOffset":51},"encoding":{"y":{"field":"price","type":"quantitative"}}},
{"data":{"values":[{"day":357,"price":276.01,"label":"276.01"}]},"mark":{"type":"text","color":"white","fontSize":12.5,"align":"center","baseline":"middle","xOffset":54.5},"encoding":{"y":{"field":"price","type":"quantitative"},"text":{"field":"label"}}},
{"data":{"values":[{"day":231,"to":301,"top":270.7,"bottom":226.3}]},"mark":{"type":"rect","fill":"white","stroke":"#dddddd","strokeWidth":2},"encoding":{"x2":{"field":"to"},"y":{"field":"top","type":"quantitative"},"y2":{"field":"bottom"}}},
{"data":{"values":[{"day":226,"to":231,"top":270.7,"bottom":226.3}]},"mark":{"type":"rect","fill":"#007b00"},"encoding":{"x2":{"field":"to"},"y":{"field":"top","type":"quantitative"},"y2":{"field":"bottom"}}},
{"data":{"name":"note"},"mark":{"type":"text","fontSize":13.6,"color":"#333333","align":"left","baseline":"middle"},"encoding":{"y":{"field":"price","type":"quantitative"},"text":{"field":"line"}}}
],"resolve":{"scale":{"color":"independent"}}},
{"width":745,"height":109,"data":{"name":"bars"},"encoding":{"x":{"field":"day","type":"quantitative","scale":{"domain":[0,372.5],"nice":false,"zero":false},"axis":{"values":[15,79,143,204,268,333],"labels":false,"ticks":false,"domain":false,"grid":true}}},
"layer":[
{"mark":{"type":"rule","strokeWidth":1.2,"xOffset":0.25,"clip":true},"encoding":{"y":{"field":"vol","type":"quantitative","scale":{"domain":[0.57,13.24],"nice":false,"zero":false},"axis":{"orient":"right","values":[2,4,6,8,10,12],"tickCount":10,"tickSize":5,"tickColor":"#000","domain":false,"grid":false,"labelPadding":6,"labelOverlap":false,"labelExpr":"datum.value<10?format(datum.value,'.1f')+'M':datum.value+'M'"}},"y2":{"datum":0.57},"color":{"field":"dir","type":"nominal","legend":null,"scale":{"domain":["u","d"],"range":["#4f9c70","#ff1a1a"]}}}},
{"mark":{"type":"area","fill":"#1f77b4","opacity":0.5,"clip":true},"encoding":{"y":{"field":"avg","type":"quantitative"},"y2":{"datum":0.57}}},
{"mark":{"type":"line","stroke":"#1f77b4","strokeWidth":1.5,"clip":true},"encoding":{"y":{"field":"avg","type":"quantitative"}}},
{"data":{"values":[{"day":306}]},"mark":{"type":"rule","stroke":"#999999","strokeWidth":1,"strokeDash":[5,3],"xOffset":0.5},"encoding":{}},
{"data":{"values":[{"day":306,"avg":2.43}]},"mark":{"type":"circle","size":34,"opacity":1,"fill":"#17609a"},"encoding":{"y":{"field":"avg","type":"quantitative"}}}
]},
{"width":745,"height":110,"encoding":{"x":{"field":"day","type":"quantitative","scale":{"domain":[0,372.5],"nice":false,"zero":false},"axis":{"orient":"bottom","values":[15,79,143,204,268,333],"ticks":false,"domain":true,"domainColor":"#000","domainWidth":1.5,"grid":true,"gridDash":[],"labelPadding":4,"labelAngle":0,"labelOverlap":false,"labelExpr":"{'15':'Jul 2018','79':'Oct 2018','143':'2019','204':'Apr 2019','268':'Jul 2019','333':'Oct 2019'}[datum.value]"}}},
"layer":[
{"data":{"values":[{"day":0,"to":372.5,"osc":50},{"day":0,"to":372.5,"osc":-50}]},"mark":{"type":"rule","stroke":"#aaaaaa","strokeWidth":2},"encoding":{"x2":{"field":"to"},"y":{"field":"osc","type":"quantitative","scale":{"domain":[-87,104],"nice":false,"zero":false},"axis":{"orient":"right","values":[-50,50],"tickCount":10,"tickSize":5,"tickColor":"#000","domain":false,"grid":false,"labelPadding":6,"labelOverlap":false,"labelExpr":"''+datum.value"}}}},
{"data":{"values":[{"day":0,"to":372.5,"osc":30},{"day":0,"to":372.5,"osc":-30}]},"mark":{"type":"rule","stroke":"#cccccc","strokeWidth":1,"strokeDash":[8,6]},"encoding":{"x2":{"field":"to"},"y":{"field":"osc","type":"quantitative"}}},
{"data":{"name":"bars"},"mark":{"type":"line","stroke":"#222222","strokeWidth":1,"clip":true},"encoding":{"y":{"field":"osc","type":"quantitative"}}},
{"data":{"values":[{"day":306}]},"mark":{"type":"rule","stroke":"#999999","strokeWidth":1,"strokeDash":[5,3],"xOffset":0.5},"encoding":{}},
{"data":{"values":[{"day":357,"to":368,"osc":7}]},"mark":{"type":"rule","stroke":"#bbbbbb","strokeWidth":1,"strokeDash":[4,3]},"encoding":{"x2":{"field":"to"},"y":{"field":"osc","type":"quantitative"}}},
{"data":{"values":[{"day":357,"osc":7}]},"mark":{"type":"point","shape":"M-1,0L-0.6,-0.51L1,-0.51L1,0.51L-0.6,0.51Z","size":2025,"filled":true,"color":"#6ba583","opacity":1,"strokeWidth":0,"xOffset":44.5},"encoding":{"y":{"field":"osc","type":"quantitative"}}},
{"data":{"values":[{"day":357,"osc":7,"label":"7.00"}]},"mark":{"type":"text","color":"white","fontSize":13,"align":"center","baseline":"middle","xOffset":48},"encoding":{"y":{"field":"osc","type":"quantitative"},"text":{"field":"label"}}},
{"data":{"values":[{"day":287.5,"to":324.5,"top":-87,"bottom":-123.4}]},"mark":{"type":"rect","fill":"#555555"},"encoding":{"x2":{"field":"to"},"y":{"field":"top","type":"quantitative"},"y2":{"field":"bottom"}}},
{"data":{"values":[{"day":306,"osc":-105,"label":"2019-08-22"}]},"mark":{"type":"text","color":"white","fontSize":12.5,"align":"center","baseline":"middle"},"encoding":{"y":{"field":"osc","type":"quantitative"},"text":{"field":"label"}}}
]}
]}
